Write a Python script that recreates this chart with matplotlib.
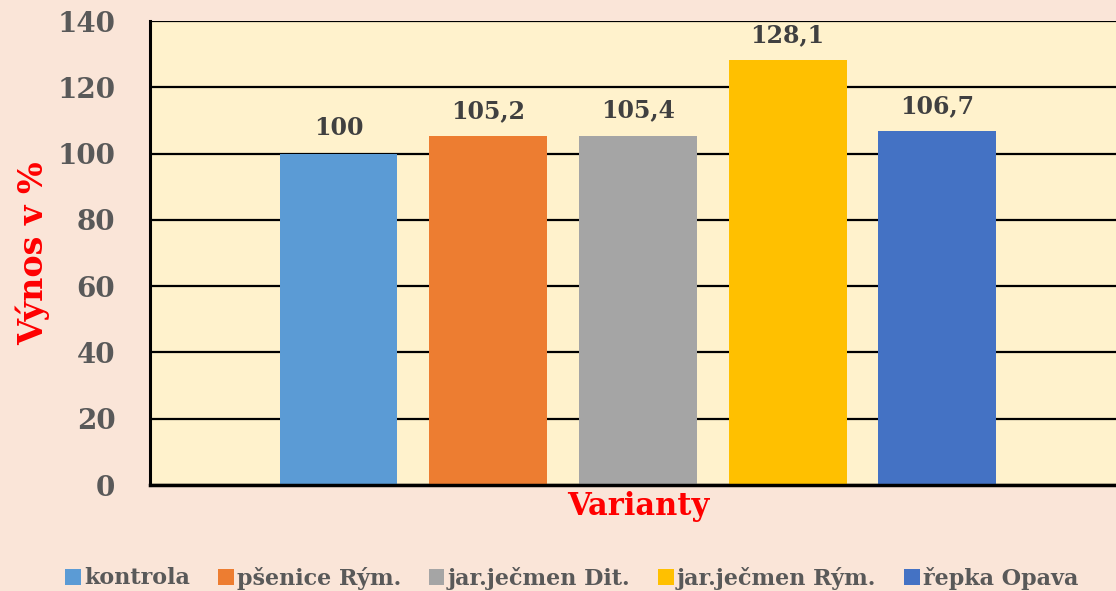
import numpy as np
import matplotlib

matplotlib.use("Agg")
import matplotlib.pyplot as plt

# data
series = ["kontrola", "pšenice Rým.", "jar.ječmen Dit.", "jar.ječmen Rým.", "řepka Opava"]
values = [100, 105.2, 105.4, 128.1, 106.7]
colors = ["#5B9BD5", "#ED7D31", "#A5A5A5", "#FFC000", "#4472C4"]
yticks = [0, 20, 40, 60, 80, 100, 120, 140]

BG = "#FAE5D8"
PLOT_BG = "#FFF2CC"
FONT = "DejaVu Serif"

fig = plt.figure(figsize=(11.16, 5.91), dpi=100, facecolor=BG)
ax = fig.add_axes([150 / 1116, 106 / 591, 1 - 150 / 1116, 464 / 591])
ax.set_facecolor(PLOT_BG)

x = np.arange(len(values))
for i, (name, v, c) in enumerate(zip(series, values, colors)):
    ax.bar(x[i], v, width=118 / 150, color=c, label=name, zorder=3)
    txt = f"{v:g}".replace(".", ",")
    ax.text(x[i], v + 4, txt, ha="center", va="bottom", fontsize=17,
            fontweight="bold", family=FONT, color="#404040", zorder=4)

ax.set_xlim(-189 / 150, 4 + 179 / 150)
ax.set_ylim(0, 140)
ax.set_yticks(yticks)
ax.set_yticklabels([str(t) for t in yticks], fontsize=20, fontweight="bold",
                   family=FONT, color="#595959")
ax.set_xticks([])
ax.tick_params(axis="y", length=0, pad=25)
ax.yaxis.grid(True, color="black", linewidth=1.6, zorder=1)
ax.set_axisbelow(True)
for s in ["top", "right"]:
    ax.spines[s].set_visible(False)
ax.spines["left"].set_linewidth(2.2)
ax.spines["bottom"].set_linewidth(2.5)
ax.spines["left"].set_zorder(5)
ax.spines["bottom"].set_zorder(5)

ax.set_ylabel("Výnos v %", fontsize=24, fontweight="bold", family=FONT,
              color="red", labelpad=5)
fig.text(638 / 1116, 1 - 507 / 591, "Varianty", ha="center", va="center",
         fontsize=22, fontweight="bold", family=FONT, color="red")

handles, labels = ax.get_legend_handles_labels()
leg = fig.legend(handles, labels, loc="center", bbox_to_anchor=(572 / 1116, 1 - 578 / 591),
                 ncol=5, frameon=False, handlelength=0.7, handleheight=0.7,
                 handletextpad=0.15, columnspacing=1.25,
                 prop={"family": FONT, "weight": "bold", "size": 16})
for t in leg.get_texts():
    t.set_color("#595959")

fig.savefig("out.png", dpi=100, facecolor=BG)
